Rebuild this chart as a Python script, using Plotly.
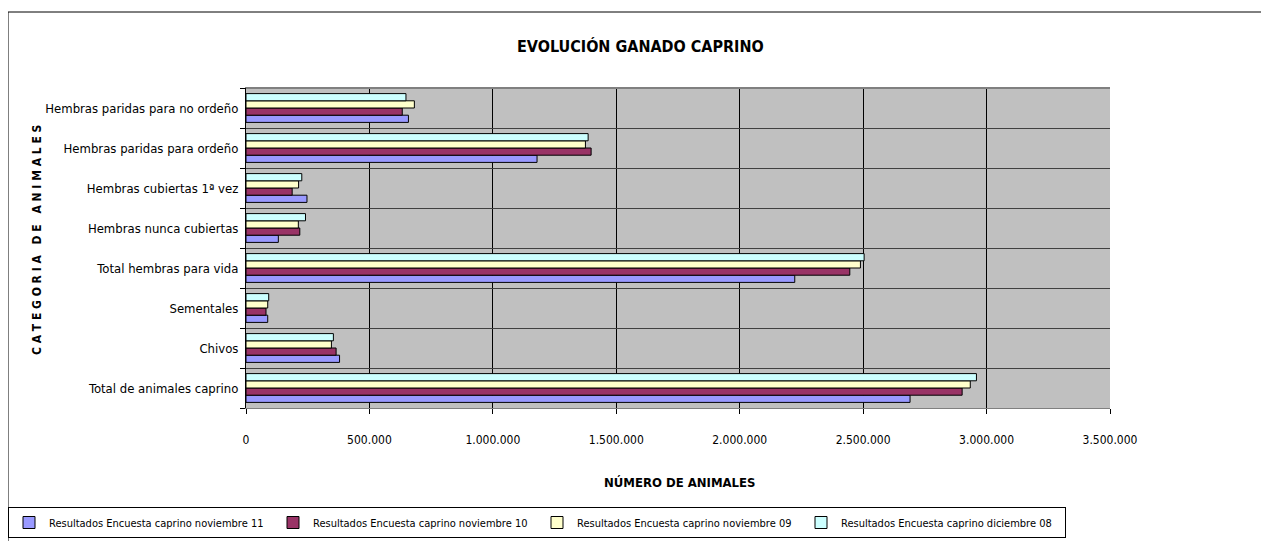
import plotly.graph_objects as go

categories = [
    "Total de animales caprino",
    "Chivos",
    "Sementales",
    "Total hembras para vida",
    "Hembras nunca cubiertas",
    "Hembras cubiertas 1ª vez",
    "Hembras paridas para ordeño",
    "Hembras paridas para no ordeño",
]

series_names = [
    "Resultados Encuesta caprino noviembre 11",
    "Resultados Encuesta caprino noviembre 10",
    "Resultados Encuesta caprino noviembre 09",
    "Resultados Encuesta caprino diciembre 08",
]

nov11 = [2690000, 379000, 88000, 2223000, 131000, 247000, 1179000, 658000]
nov10 = [2901000, 365000, 81000, 2446000, 218000, 187000, 1398000, 633000]
nov09 = [2934000, 346000, 88000, 2489000, 212000, 213000, 1375000, 682000]
dic08 = [2959000, 354000, 92000, 2504000, 241000, 226000, 1386000, 648000]

colors = ["#9999FF", "#993366", "#FFFFCC", "#CCFFFF"]
x_ticks = [0, 500000, 1000000, 1500000, 2000000, 2500000, 3000000, 3500000]

FONT = "Liberation Sans Narrow, Arial Narrow, DejaVu Sans Condensed, Arial, sans-serif"

fig = go.Figure()
for name, vals, col in zip(series_names, [nov11, nov10, nov09, dic08], colors):
    fig.add_trace(go.Bar(
        y=categories, x=vals, name=name, orientation="h",
        marker=dict(color=col, line=dict(color="black", width=1)),
    ))

# page body has an 8px margin: screen coordinates = figure coordinates + 8
OFF = 8
W, H = 1269, 541
L, R, T, B = 238, 167, 80, 141
pw, ph = W - L - R, H - T - B

def px(x):
    return (x - OFF - L) / pw

def py(y):
    return (H - B - (y - OFF)) / ph

ytitle = "\u2002\u2002".join(" ".join(w) for w in "CATEGORIA DE ANIMALES".split(" "))

fig.update_layout(
    width=W, height=H,
    margin=dict(l=L, r=R, t=T, b=B, autoexpand=False),
    paper_bgcolor="white",
    plot_bgcolor="#C0C0C0",
    barmode="group",
    bargap=0.28,
    bargroupgap=0,
    separators=",.",
    font=dict(family=FONT, size=12, color="black"),
    showlegend=True,
    legend=dict(
        orientation="h", x=px(8), y=py(507), xanchor="left", yanchor="top",
        bordercolor="black", borderwidth=1, bgcolor="white",
        font=dict(family=FONT, size=11), traceorder="normal",
        itemwidth=30, tracegroupgap=0,
        entrywidth=219, entrywidthmode="pixels",
    ),
    xaxis=dict(
        range=[0, 3500000], tickvals=x_ticks, tickformat=",.0f",
        showgrid=True, gridcolor="black", gridwidth=1,
        ticks="outside", ticklen=5, tickcolor="black",
        ticklabelstandoff=16,
        showline=True, linecolor="#808080", linewidth=1, mirror=True,
        zeroline=False, fixedrange=True, automargin=False,
    ),
    yaxis=dict(
        type="category", categoryorder="array", categoryarray=categories,
        tickson="boundaries", ticks="outside", ticklen=5, tickcolor="black",
        showgrid=True, gridcolor="#404040", gridwidth=1,
        showline=True, linecolor="black", linewidth=1, mirror=False,
        ticklabelstandoff=4, fixedrange=True, automargin=False,
        tickfont=dict(family=FONT, size=13),
    ),
    shapes=[
        dict(type="rect", xref="paper", yref="paper",
             x0=px(8), x1=px(1266), y0=py(560), y1=py(12),
             line=dict(color="black", width=1), fillcolor="rgba(0,0,0,0)",
             layer="below"),
        dict(type="line", xref="paper", yref="paper",
             x0=0, x1=1, y0=1, y1=1, line=dict(color="#808080", width=2)),
    ],
    annotations=[
        dict(text="<b>EVOLUCIÓN GANADO CAPRINO</b>", xref="paper", yref="paper",
             x=px(640), y=py(47), xanchor="center", yanchor="middle", showarrow=False,
             font=dict(family=FONT, size=16)),
        dict(text="<b>NÚMERO DE ANIMALES</b>", xref="paper", yref="paper",
             x=px(679), y=py(482), xanchor="center", yanchor="middle", showarrow=False,
             font=dict(family=FONT, size=13)),
        dict(text="<b>" + ytitle + "</b>",
             xref="paper", yref="paper",
             x=px(37), y=py(240), xanchor="center", yanchor="middle", showarrow=False, textangle=-90,
             font=dict(family=FONT, size=12)),
    ],
)

fig.write_html("out.html")
